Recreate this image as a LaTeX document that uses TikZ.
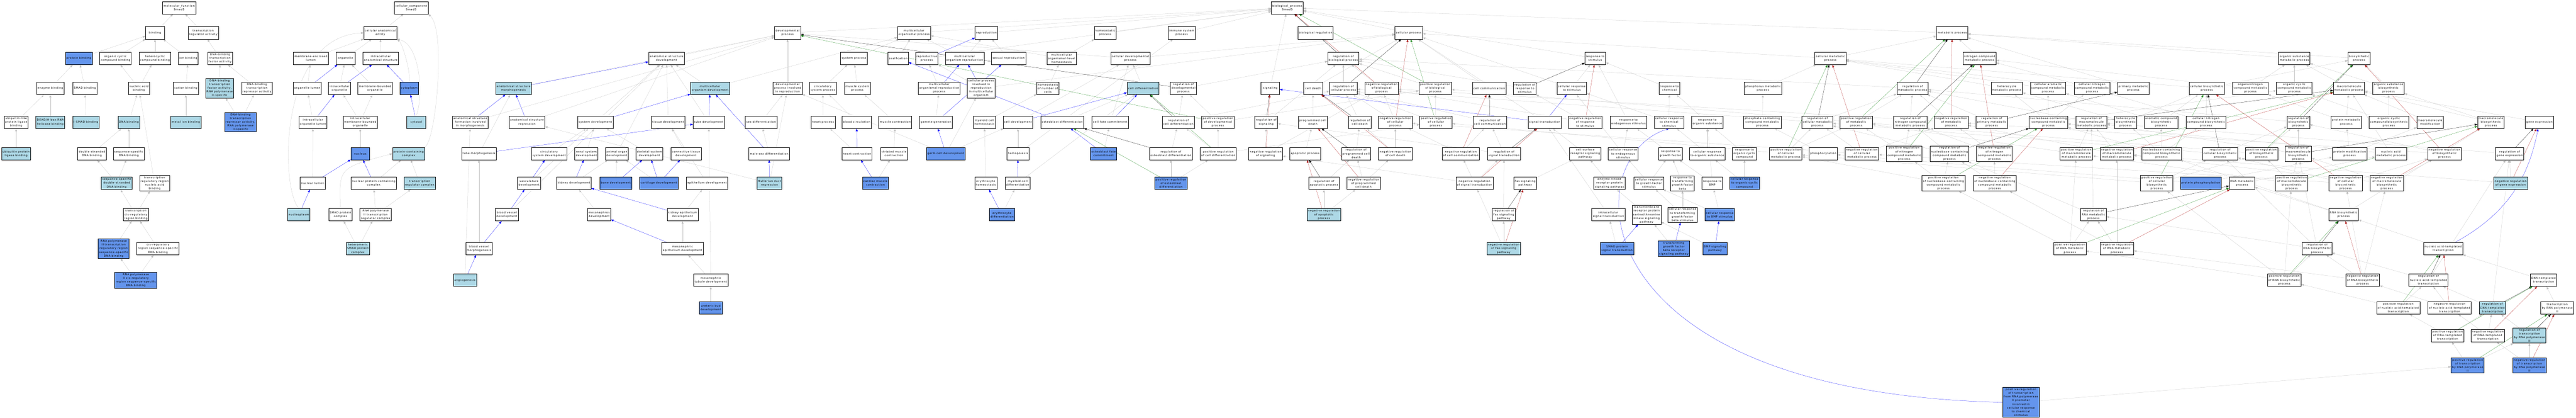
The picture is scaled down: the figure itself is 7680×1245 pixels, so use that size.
\documentclass[tikz,border=0pt]{standalone}
\usepackage{fontspec}
\usepackage{tikz}
\usetikzlibrary{arrows.meta}
\newfontfamily\gofont[LetterSpace=12]{DejaVu Sans}
\definecolor{hitblue}{HTML}{6495ED}
\definecolor{inhblue}{HTML}{ADD8E6}
\definecolor{edgegray}{RGB}{192,192,192}
\definecolor{posgreen}{HTML}{228B22}
\definecolor{negred}{HTML}{B22222}
\pgfdeclarelayer{back}
\pgfsetlayers{back,main}
\tikzset{
  goterm/.style={draw=black, line width=0.9pt, fill=white, align=center,
    inner xsep=3pt, inner ysep=3pt, minimum width=56pt, minimum height=37pt,
    font=\gofont\fontsize{8}{11}\selectfont},
  goannot/.style={goterm, fill=hitblue},
  goinher/.style={goterm, fill=inhblue},
  isa/.style={->, color=edgegray},
  partof/.style={->, color=blue},
  regl/.style={->, color=black},
  posreg/.style={->, color=posgreen},
  negreg/.style={->, color=negred}
}
\begin{document}
\begin{tikzpicture}[x=1pt, y=-1pt, line width=0.9pt,
    >={Triangle[length=8pt, width=6pt]}]
\useasboundingbox (0,0) rectangle (7680,1245);

% molecular function
\node[goterm] (mf) at (534,23) {molecular\_function\\Smad5};
\node[goterm] (bind) at (462,98) {binding};
\node[goterm] (tra) at (606,98) {transcription\\regulator activity};
\node[goannot] (protb) at (235,174) {protein binding};
\node[goterm] (occb) at (344,174) {organic cyclic\\compound binding};
\node[goterm] (hcb) at (462,174) {heterocyclic\\compound binding};
\node[goterm] (ionb) at (561,174) {ion binding};
\node[goterm] (dbtfa) at (656,174) {DNA-binding\\transcription\\factor activity};
\node[goterm] (enzb) at (150,263) {enzyme binding};
\node[goterm] (smadb) at (253,263) {SMAD binding};
\node[goterm] (nab) at (414,263) {nucleic acid\\binding};
\node[goterm] (catb) at (554,263) {cation binding};
\node[goinher] (dbtfa2) at (655,263) {DNA-binding\\transcription\\factor activity,\\RNA polymerase\\II-specific};
\node[goterm] (dbtra) at (766,263) {DNA-binding\\transcription\\repressor activity};
\node[goterm] (ulplb) at (48,364) {ubiquitin-like\\protein ligase\\binding};
\node[goinher] (deadb) at (150,364) {DEAD/H-box RNA\\helicase binding};
\node[goinher] (ismadb) at (256,364) {I-SMAD binding};
\node[goinher] (dnab) at (384,364) {DNA binding};
\node[goinher] (metb) at (554,364) {metal ion binding};
\node[goannot] (dbtra2) at (717,364) {DNA-binding\\transcription\\repressor activity,\\RNA polymerase\\II-specific};
\node[goinher] (uplb) at (48,458) {ubiquitin protein\\ligase binding};
\node[goterm] (dsdna) at (274,458) {double-stranded\\DNA binding};
\node[goterm] (ssdna) at (384,458) {sequence-specific\\DNA binding};
\node[goinher] (ssds) at (348,546) {sequence-specific\\double-stranded\\DNA binding};
\node[goterm] (trrnab) at (461,546) {transcription\\regulatory region\\nucleic acid\\binding};
\node[goterm] (tcrrb) at (405,640) {transcription\\cis-regulatory\\region binding};
\node[goannot] (p2trr) at (339,741) {RNA polymerase\\II transcription\\regulatory region\\sequence-specific\\DNA binding};
\node[goterm] (crrss) at (471,741) {cis-regulatory\\region sequence-specific\\DNA binding};
\node[goannot] (p2crr) at (405,835) {RNA polymerase\\II cis-regulatory\\region sequence-specific\\DNA binding};

% cellular component
\node[goterm] (cc) at (1226,23) {cellular\_component\\Smad5};
\node[goterm] (cae) at (1134,98) {cellular anatomical\\entity};
\node[goterm] (mel) at (927,174) {membrane-enclosed\\lumen};
\node[goterm] (org) at (1030,174) {organelle};
\node[goterm] (ias) at (1135,174) {intracellular\\anatomical structure};
\node[goterm] (orglum) at (916,263) {organelle lumen};
\node[goterm] (iorg) at (1012,263) {intracellular\\organelle};
\node[goterm] (mbo) at (1118,263) {membrane-bounded\\organelle};
\node[goannot] (cyto) at (1220,263) {cytoplasm};
\node[goterm] (iol) at (933,364) {intracellular\\organelle lumen};
\node[goterm] (imbo) at (1074,364) {intracellular\\membrane-bounded\\organelle};
\node[goinher] (cytosol) at (1241,364) {cytosol};
\node[goannot] (nuc) at (1074,458) {nucleus};
\node[goinher] (pcc) at (1218,458) {protein-containing\\complex};
\node[goterm] (nuclum) at (932,546) {nuclear lumen};
\node[goterm] (npcc) at (1114,546) {nuclear protein-containing\\complex};
\node[goinher] (trc) at (1251,546) {transcription\\regulator complex};
\node[goinher] (nucpl) at (891,640) {nucleoplasm};
\node[goterm] (smadpc) at (1015,640) {SMAD protein\\complex};
\node[goterm] (p2trc) at (1120,640) {RNA polymerase\\II transcription\\regulator complex};
\node[goinher] (hsmad) at (1067,741) {heteromeric\\SMAD protein\\complex};

% biological process: development
\node[goinher] (asm) at (1531,263) {anatomical structure\\morphogenesis};
\node[goterm] (asfim) at (1402,364) {anatomical structure\\formation involved\\in morphogenesis};
\node[goterm] (asr) at (1571,364) {anatomical structure\\regression};
\node[goterm] (sysdev) at (1775,364) {system development};
\node[goterm] (tubemorph) at (1428,458) {tube morphogenesis};
\node[goterm] (circdev) at (1637,458) {circulatory\\system development};
\node[goterm] (renaldev) at (1748,458) {renal system\\development};
\node[goterm] (aodev) at (1839,458) {animal organ\\development};
\node[goterm] (skeldev) at (1936,458) {skeletal system\\development};
\node[goterm] (vascdev) at (1577,546) {vasculature\\development};
\node[goterm] (kiddev) at (1711,546) {kidney development};
\node[goannot] (bonedev) at (1836,546) {bone development};
\node[goannot] (cartdev) at (1964,546) {cartilage development};
\node[goterm] (bvdev) at (1511,640) {blood vessel\\development};
\node[goterm] (mesodev) at (1786,640) {mesonephros\\development};
\node[goterm] (bvmorph) at (1428,741) {blood vessel\\morphogenesis};
\node[goinher] (angio) at (1386,835) {angiogenesis};
\node[goterm] (devproc) at (2348,98) {developmental\\process};
\node[goterm] (asd) at (1987,174) {anatomical structure\\development};
\node[goterm] (sysproc) at (2546,174) {system process};
\node[goinher] (mod) at (2117,263) {multicellular\\organism development};
\node[goterm] (dpir) at (2348,263) {developmental\\process involved\\in reproduction};
\node[goterm] (circproc) at (2453,263) {circulatory\\system process};
\node[goterm] (muscproc) at (2556,263) {muscle system\\process};
\node[goterm] (tissdev) at (1992,364) {tissue development};
\node[goterm] (tubedev) at (2113,364) {tube development};
\node[goterm] (sexdiff) at (2269,364) {sex differentiation};
\node[goterm] (heartproc) at (2454,364) {heart process};
\node[goterm] (bloodcirc) at (2554,364) {blood circulation};
\node[goterm] (ctdev) at (2045,458) {connective tissue\\development};
\node[goterm] (msdiff) at (2293,458) {male sex differentiation};
\node[goterm] (heartcon) at (2555,458) {heart contraction};
\node[goterm] (epidev) at (2108,546) {epithelium development};
\node[goinher] (mdr) at (2294,546) {Mullerian duct\\regression};
\node[goterm] (kepidev) at (2035,640) {kidney epithelium\\development};
\node[goterm] (mepidev) at (2035,741) {mesonephric\\epithelium development};
\node[goterm] (mtubdev) at (2119,835) {mesonephric\\tubule development};
\node[goannot] (ubdev) at (2119,918) {ureteric bud\\development};

% reproduction, homeostasis, cells
\node[goterm] (mop) at (2725,98) {multicellular\\organismal process};
\node[goterm] (repro) at (2941,98) {reproduction};
\node[goterm] (ossif) at (2678,174) {ossification};
\node[goterm] (reprop) at (2763,174) {reproductive\\process};
\node[goterm] (mor) at (2876,174) {multicellular\\organism reproduction};
\node[goterm] (sexrep) at (3007,174) {sexual reproduction};
\node[goterm] (molh) at (3165,174) {multicellular\\organismal-level\\homeostasis};
\node[goterm] (morp) at (2800,263) {multicellular\\organismal reproductive\\process};
\node[goterm] (cpir) at (2925,263) {cellular process\\involved in\\reproduction\\in multicellular\\organism};
\node[goterm] (honc) at (3124,263) {homeostasis\\of number of\\cells};
\node[goterm] (muscon) at (2669,364) {muscle contraction};
\node[goterm] (gamgen) at (2790,364) {gamete generation};
\node[goterm] (mchom) at (2935,364) {myeloid cell\\homeostasis};
\node[goterm] (celldev) at (3035,364) {cell development};
\node[goterm] (obdiff) at (3167,364) {osteoblast differentiation};
\node[goterm] (smcon) at (2665,458) {striated muscle\\contraction};
\node[goannot] (gcdev) at (2820,458) {germ cell development};
\node[goterm] (hemo) at (3035,458) {hemopoiesis};
\node[goannot] (cmcon) at (2610,546) {cardiac muscle\\contraction};
\node[goterm] (erhom) at (2939,546) {erythrocyte\\homeostasis};
\node[goterm] (mcdiff) at (3034,546) {myeloid cell\\differentiation};
\node[goannot] (erdiff) at (2987,640) {erythrocyte\\differentiation};

% differentiation and regulation
\node[goterm] (bp) at (3838,23) {biological\_process\\Smad5};
\node[goterm] (homproc) at (3295,98) {homeostatic\\process};
\node[goterm] (immproc) at (3523,98) {immune system\\process};
\node[goterm] (cdp) at (3370,174) {cellular developmental\\process};
\node[goinher] (celldiff) at (3408,263) {cell differentiation};
\node[goterm] (rdp) at (3528,263) {regulation of\\developmental\\process};
\node[goterm] (signaling) at (3787,263) {signaling};
\node[goterm] (cfc) at (3310,364) {cell fate commitment};
\node[goterm] (rcd) at (3513,364) {regulation of\\cell differentiation};
\node[goterm] (prdp) at (3631,364) {positive regulation\\of developmental\\process};
\node[goterm] (rsig) at (3775,364) {regulation of\\signaling};
\node[goannot] (obfc) at (3290,458) {osteoblast fate\\commitment};
\node[goterm] (robd) at (3491,458) {regulation of\\osteoblast differentiation};
\node[goterm] (prcd) at (3632,458) {positive regulation\\of cell differentiation};
\node[goterm] (nrsig) at (3773,458) {negative regulation\\of signaling};
\node[goannot] (probd) at (3491,546) {positive regulation\\of osteoblast\\differentiation};

\node[goterm] (bioreg) at (3922,98) {biological regulation};
\node[goterm] (cellproc) at (4200,98) {cellular process};
\node[goterm] (rbp) at (4005,174) {regulation of\\biological process};
\node[goterm] (celldeath) at (3915,263) {cell death};
\node[goterm] (rcp) at (4005,263) {regulation of\\cellular process};
\node[goterm] (nrbp) at (4119,263) {negative regulation\\of biological\\process};
\node[goterm] (prbp) at (4279,263) {positive regulation\\of biological\\process};
\node[goterm] (cellcomm) at (4440,263) {cell communication};
\node[goterm] (pcd) at (3914,364) {programmed cell\\death};
\node[goterm] (rcdeath) at (4054,364) {regulation of\\cell death};
\node[goterm] (nrcp) at (4160,364) {negative regulation\\of cellular\\process};
\node[goterm] (prcp) at (4281,364) {positive regulation\\of cellular\\process};
\node[goterm] (rcc) at (4442,364) {regulation of\\cell communication};
\node[goterm] (apop) at (3891,458) {apoptotic process};
\node[goterm] (rpcd) at (4043,458) {regulation of\\programmed cell\\death};
\node[goterm] (nrcdeath) at (4160,458) {negative regulation\\of cell death};
\node[goterm] (nrcc) at (4355,458) {negative regulation\\of cell communication};
\node[goterm] (rst) at (4484,458) {regulation of\\signal transduction};
\node[goterm] (rap) at (3947,546) {regulation of\\apoptotic process};
\node[goterm] (nrpcd) at (4065,546) {negative regulation\\of programmed\\cell death};
\node[goterm] (nrst) at (4396,546) {negative regulation\\of signal transduction};
\node[goterm] (rfas) at (4483,640) {regulation of\\Fas signaling\\pathway};
\node[goinher] (nrap) at (3947,640) {negative regulation\\of apoptotic\\process};
\node[goinher] (nrfas) at (4483,741) {negative regulation\\of Fas signaling\\pathway};

% response and signalling
\node[goterm] (rstim) at (4756,174) {response to\\stimulus};
\node[goterm] (rrs) at (4546,263) {regulation of\\response to\\stimulus};
\node[goterm] (crs) at (4686,263) {cellular response\\to stimulus};
\node[goterm] (rchem) at (4977,263) {response to\\chemical};
\node[goterm] (sigtr) at (4605,364) {signal transduction};
\node[goterm] (nrrs) at (4726,364) {negative regulation\\of response\\to stimulus};
\node[goterm] (rendo) at (4855,364) {response to\\endogenous stimulus};
\node[goterm] (crchem) at (4976,364) {cellular response\\to chemical\\stimulus};
\node[goterm] (rorg) at (5090,364) {response to\\organic substance};
\node[goterm] (csrsp) at (4726,458) {cell surface\\receptor signaling\\pathway};
\node[goterm] (crendo) at (4839,458) {cellular response\\to endogenous\\stimulus};
\node[goterm] (rgf) at (4980,458) {response to\\growth factor};
\node[goterm] (crorg) at (5090,458) {cellular response\\to organic substance};
\node[goterm] (fas) at (4547,546) {Fas signaling\\pathway};
\node[goterm] (elrp) at (4798,546) {enzyme-linked\\receptor protein\\signaling pathway};
\node[goterm] (crgf) at (4916,546) {cellular response\\to growth factor\\stimulus};
\node[goterm] (rtgfb) at (5016,546) {response to\\transforming\\growth factor\\beta};
\node[goterm] (rbmp) at (5105,546) {response to\\BMP};
\node[goterm] (ist) at (4795,640) {intracellular\\signal transduction};
\node[goterm] (tmrp) at (4909,640) {transmembrane\\receptor protein\\serine/threonine\\kinase signaling\\pathway};
\node[goterm] (crtgfb) at (5016,640) {cellular response\\to transforming\\growth factor\\beta stimulus};
\node[goannot] (crbmp) at (5127,640) {cellular response\\to BMP stimulus};
\node[goannot] (smadst) at (4821,741) {SMAD protein\\signal transduction};
\node[goannot] (tgfbsp) at (4990,741) {transforming\\growth factor\\beta receptor\\signaling pathway};
\node[goannot] (bmpsp) at (5113,741) {BMP signaling\\pathway};

% metabolism
\node[goterm] (cmp) at (5457,174) {cellular metabolic\\process};
\node[goterm] (phmp) at (5256,263) {phosphorus metabolic\\process};
\node[goterm] (rmp) at (5702,263) {regulation of\\metabolic process};
\node[goterm] (pcmp) at (5254,364) {phosphate-containing\\compound metabolic\\process};
\node[goterm] (rcmp) at (5418,364) {regulation of\\cellular metabolic\\process};
\node[goterm] (prmp) at (5534,364) {positive regulation\\of metabolic\\process};
\node[goterm] (rncmp) at (5695,364) {regulation of\\nitrogen compound\\metabolic process};
\node[goterm] (rocc) at (5201,458) {response to\\organic cyclic\\compound};
\node[goterm] (prcmp) at (5324,458) {positive regulation\\of cellular\\metabolic process};
\node[goterm] (phos) at (5436,458) {phosphorylation};
\node[goterm] (nrcmp) at (5551,458) {negative regulation\\of cellular\\metabolic process};
\node[goterm] (prncmp) at (5677,458) {positive regulation\\of nitrogen\\compound metabolic\\process};
\node[goterm] (rnccmp) at (5812,458) {regulation of\\nucleobase-containing\\compound metabolic\\process};
\node[goterm] (prnccmp) at (5794,546) {positive regulation\\of nucleobase-containing\\compound metabolic\\process};
\node[goannot] (crocc) at (5201,546) {cellular response\\to organic cyclic\\compound};

\node[goterm] (mp) at (5820,98) {metabolic process};
\node[goterm] (ncmp) at (5902,174) {nitrogen compound\\metabolic process};
\node[goterm] (hetmp) at (5983,263) {heterocycle\\metabolic process};
\node[goterm] (camp) at (6106,263) {cellular aromatic\\compound metabolic\\process};
\node[goterm] (cncmp) at (6237,263) {cellular nitrogen\\compound metabolic\\process};
\node[goterm] (pmp) at (6360,263) {primary metabolic\\process};
\node[goterm] (nrmp) at (5817,364) {negative regulation\\of metabolic\\process};
\node[goterm] (rpmp) at (5938,364) {regulation of\\primary metabolic\\process};
\node[goterm] (nccmp) at (6107,364) {nucleobase-containing\\compound metabolic\\process};
\node[goterm] (rmmp) at (6235,364) {regulation of\\macromolecule\\metabolic process};
\node[goterm] (hetbp) at (6337,364) {heterocycle\\biosynthetic\\process};
\node[goterm] (acbp) at (6443,364) {aromatic compound\\biosynthetic\\process};
\node[goterm] (nrncmp) at (5946,458) {negative regulation\\of nitrogen\\compound metabolic\\process};
\node[goterm] (prmmp) at (6190,458) {positive regulation\\of macromolecule\\metabolic process};
\node[goterm] (nrmmp) at (6311,458) {negative regulation\\of macromolecule\\metabolic process};
\node[goterm] (nccbp) at (6444,458) {nucleobase-containing\\compound biosynthetic\\process};
\node[goterm] (nrnccmp) at (5947,546) {negative regulation\\of nucleobase-containing\\compound metabolic\\process};
\node[goterm] (prcbp) at (6430,546) {positive regulation\\of cellular\\biosynthetic\\process};
\node[goterm] (rrnamp) at (6241,640) {regulation of\\RNA metabolic\\process};
\node[goterm] (prrnamp) at (6171,741) {positive regulation\\of RNA metabolic\\process};
\node[goterm] (nrrnamp) at (6311,741) {negative regulation\\of RNA metabolic\\process};
\node[goannot] (prtc) at (6025,1199) {positive regulation\\of transcription\\from RNA polymerase\\II promoter\\involved in\\cellular response\\to chemical\\stimulus};

\node[goterm] (osmp) at (6840,174) {organic substance\\metabolic process};
\node[goterm] (bsp) at (7033,174) {biosynthetic\\process};
\node[goterm] (cbp) at (6579,263) {cellular biosynthetic\\process};
\node[goterm] (oncmp) at (6709,263) {organonitrogen\\compound metabolic\\process};
\node[goterm] (occmp) at (6840,263) {organic cyclic\\compound metabolic\\process};
\node[goterm] (mmp) at (7003,263) {macromolecule\\metabolic process};
\node[goterm] (cncbp) at (6577,364) {cellular nitrogen\\compound biosynthetic\\process};
\node[goterm] (rbsp) at (6852,364) {regulation of\\biosynthetic\\process};
\node[goterm] (protmp) at (6995,364) {protein metabolic\\process};
\node[goterm] (rcbp) at (6619,458) {regulation of\\cellular biosynthetic\\process};
\node[goterm] (prbsp) at (6742,458) {positive regulation\\of biosynthetic\\process};
\node[goterm] (rmbp) at (6852,458) {regulation of\\macromolecule\\biosynthetic\\process};
\node[goterm] (pmodp) at (7005,458) {protein modification\\process};
\node[goannot] (pphos) at (6561,546) {protein phosphorylation};
\node[goterm] (rnamp) at (6684,546) {RNA metabolic\\process};
\node[goterm] (prmbp) at (6832,546) {positive regulation\\of macromolecule\\biosynthetic\\process};
\node[goterm] (nrcbp) at (6993,546) {negative regulation\\of cellular\\biosynthetic\\process};
\node[goterm] (rnabp) at (6987,640) {RNA biosynthetic\\process};
\node[goterm] (rrnabp) at (6908,741) {regulation of\\RNA biosynthetic\\process};
\node[goterm] (prrnabp) at (6810,835) {positive regulation\\of RNA biosynthetic\\process};
\node[goterm] (nrrnabp) at (7044,835) {negative regulation\\of RNA biosynthetic\\process};

% transcription
\node[goterm] (osbp) at (7121,263) {organic substance\\biosynthetic\\process};
\node[goterm] (occbp) at (7122,364) {organic cyclic\\compound biosynthetic\\process};
\node[goterm] (mmod) at (7245,364) {macromolecule\\modification};
\node[goterm] (mbp) at (7426,364) {macromolecule\\biosynthetic\\process};
\node[goterm] (genex) at (7571,364) {gene expression};
\node[goterm] (namp) at (7128,458) {nucleic acid\\metabolic process};
\node[goterm] (nrbsp) at (7288,458) {negative regulation\\of biosynthetic\\process};
\node[goterm] (rge) at (7482,458) {regulation of\\gene expression};
\node[goterm] (nrmbp) at (7116,546) {negative regulation\\of macromolecule\\biosynthetic\\process};
\node[goinher] (nrge) at (7485,546) {negative regulation\\of gene expression};
\node[goterm] (natt) at (7284,741) {nucleic acid-templated\\transcription};
\node[goterm] (rnatt) at (7240,835) {regulation of\\nucleic acid-templated\\transcription};
\node[goterm] (dtt) at (7583,835) {DNA-templated\\transcription};
\node[goterm] (prnatt) at (7150,918) {positive regulation\\of nucleic acid-templated\\transcription};
\node[goterm] (nrnatt) at (7303,918) {negative regulation\\of nucleic acid-templated\\transcription};
\node[goinher] (rdtt) at (7431,918) {regulation of\\DNA-templated\\transcription};
\node[goterm] (trp2) at (7624,918) {transcription\\by RNA polymerase\\II};
\node[goterm] (prdtt) at (7297,1000) {positive regulation\\of DNA-templated\\transcription};
\node[goterm] (nrdtt) at (7417,1000) {negative regulation\\of DNA-templated\\transcription};
\node[goinher] (rtrp2) at (7541,1000) {regulation of\\transcription\\by RNA polymerase\\II};
\node[goannot] (prtrp2) at (7357,1089) {positive regulation\\of transcription\\by RNA polymerase\\II};
\node[goannot] (nrtrp2) at (7541,1089) {negative regulation\\of transcription\\by RNA polymerase\\II};

\begin{pgfonlayer}{back}
% molecular function edges
\path[isa] (bind) edge (mf) (tra) edge (mf) (protb) edge (bind) (occb) edge (bind)
  (hcb) edge (bind) (ionb) edge (bind) (dbtfa) edge (tra) (enzb) edge (protb)
  (smadb) edge (protb) (nab) edge (occb) (nab) edge (hcb) (catb) edge (ionb)
  (dbtfa2) edge (dbtfa) (dbtra) edge (dbtfa) (ulplb) edge (enzb) (deadb) edge (enzb)
  (ismadb) edge (smadb) (dnab) edge (nab) (metb) edge (catb) (dbtra2) edge (dbtfa2)
  (dbtra2) edge (dbtra) (uplb) edge (ulplb) (dsdna) edge (dnab) (ssdna) edge (dnab)
  (ssds) edge (dsdna) (ssds) edge (ssdna) (trrnab) edge (nab) (tcrrb) edge (ssds)
  (tcrrb) edge (trrnab) (p2trr) edge (tcrrb) (crrss) edge (tcrrb) (p2crr) edge (p2trr)
  (p2crr) edge (crrss);

% cellular component edges
\path[isa] (cae) edge (cc) (mel) edge (cae) (org) edge (cae) (ias) edge (cae)
  (iorg) edge (org) (mbo) edge (org) (orglum) edge (mel) (iol) edge (orglum)
  (imbo) edge (iorg) (imbo) edge (mbo) (nuc) edge (imbo) (nuclum) edge (iol)
  (npcc) edge (pcc) (trc) edge (pcc) (p2trc) edge (npcc) (p2trc) edge (trc)
  (hsmad) edge (smadpc) (hsmad) edge (p2trc);
\draw[isa] (cyto.north) .. controls (1225,215) and (1200,130) .. (cae.south east);
\draw[isa] (cytosol.north) .. controls (1265,280) and (1250,130) .. (cae.south east);
\draw[isa] (pcc.north east) .. controls (1300,420) and (1330,90) .. (cc.south east);
\draw[isa] (smadpc.north) .. controls (1010,500) .. (pcc.west);
\draw[isa] (nucpl.north) .. controls (835,560) and (830,110) .. (cae.west);
\path[partof] (orglum) edge (org) (iorg) edge (ias) (cyto) edge (ias) (iol) edge (iorg)
  (cytosol) edge (cyto) (nuclum) edge (nuc) (npcc) edge (nuc) (nucpl) edge (nuclum);

% development edges
\path[isa] (devproc) edge (bp) (asd) edge (devproc) (asm) edge (devproc)
  (asfim) edge (devproc) (asr) edge (devproc) (sysdev) edge (asd) (aodev) edge (asd)
  (tissdev) edge (asd) (tubedev) edge (asd) (mod) edge (asd) (bvdev) edge (asd)
  (tubemorph) edge (asm) (circdev) edge (sysdev) (renaldev) edge (sysdev)
  (skeldev) edge (sysdev) (vascdev) edge (sysdev) (kiddev) edge (aodev)
  (bonedev) edge (aodev) (cartdev) edge (aodev) (mesodev) edge (kiddev)
  (bvmorph) edge (tubemorph) (angio) edge (asfim) (ctdev) edge (tissdev)
  (epidev) edge (tissdev) (kepidev) edge (epidev) (mepidev) edge (kepidev)
  (mtubdev) edge (mepidev) (mtubdev) edge (tubedev) (ubdev) edge (mtubdev)
  (sexdiff) edge (dpir) (msdiff) edge (sexdiff) (mdr) edge (asr) (mdr) edge (dpir)
  (dpir) edge (devproc) (circproc) edge (sysproc) (muscproc) edge (sysproc)
  (sysproc) edge (mop) (heartproc) edge (circproc) (bloodcirc) edge (circproc)
  (heartcon) edge (heartproc) (muscon) edge (muscproc) (smcon) edge (muscon)
  (cmcon) edge (smcon) (mod) edge (mop);
\path[partof] (asm) edge (asd) (asfim) edge (asm) (asr) edge (asm) (sysdev) edge (mod)
  (tubemorph) edge (tubedev) (vascdev) edge (circdev) (kiddev) edge (renaldev)
  (bonedev) edge (skeldev) (cartdev) edge (skeldev) (cartdev) edge (ctdev)
  (bvdev) edge (vascdev) (bvmorph) edge (bvdev) (angio) edge (bvmorph)
  (kepidev) edge (kiddev) (mepidev) edge (mesodev) (tubedev) edge (mod)
  (msdiff) edge (mod) (mdr) edge (msdiff) (heartcon) edge (bloodcirc)
  (cmcon) edge (heartcon);

% reproduction and cell edges
\path[isa] (mop) edge (bp) (repro) edge (bp) (homproc) edge (bp) (immproc) edge (bp)
  (mor) edge (repro) (mor) edge (mop) (sexrep) edge (repro) (reprop) edge (bp)
  (morp) edge (reprop) (cpir) edge (reprop) (cpir) edge (cellproc) (gamgen) edge (morp)
  (gcdev) edge (cpir) (gcdev) edge (celldev) (gcdev) edge (dpir) (ossif) edge (mop)
  (mchom) edge (honc) (honc) edge (molh) (molh) edge (homproc) (molh) edge (mop)
  (celldev) edge (cdp) (hemo) edge (celldev) (hemo) edge (immproc)
  (erhom) edge (mchom) (erdiff) edge (mcdiff) (mcdiff) edge (celldiff)
  (obdiff) edge (celldiff) (cdp) edge (devproc) (cdp) edge (cellproc)
  (celldiff) edge (cdp) (cfc) edge (cdp) (obfc) edge (cfc);
\path[partof] (reprop) edge (repro) (morp) edge (mor) (cpir) edge (mor)
  (gamgen) edge (sexrep) (gcdev) edge (gamgen) (obdiff) edge (ossif)
  (celldev) edge (celldiff) (mcdiff) edge (hemo) (erdiff) edge (erhom)
  (cfc) edge (celldiff) (obfc) edge (obdiff);

% regulation edges
\path[isa] (rdp) edge (rbp) (rcd) edge (rdp) (rcd) edge (rcp) (prdp) edge (rdp)
  (prdp) edge (prbp) (robd) edge (rcd) (prcd) edge (rcd) (prcd) edge (prdp)
  (prcd) edge (prcp) (probd) edge (robd) (probd) edge (prcd) (rsig) edge (rbp)
  (nrsig) edge (rsig) (nrsig) edge (nrbp) (signaling) edge (bp)
  (bioreg) edge (bp) (cellproc) edge (bp) (rbp) edge (bioreg) (celldeath) edge (cellproc)
  (rcp) edge (rbp) (nrbp) edge (rbp) (prbp) edge (rbp) (cellcomm) edge (cellproc)
  (pcd) edge (celldeath) (rcdeath) edge (rcp) (nrcp) edge (rcp) (nrcp) edge (nrbp)
  (prcp) edge (rcp) (prcp) edge (prbp) (rcc) edge (rcp) (apop) edge (pcd)
  (rpcd) edge (rcdeath) (nrcdeath) edge (rcdeath) (nrcdeath) edge (nrcp)
  (nrcc) edge (rcc) (nrcc) edge (nrcp) (rst) edge (rcc) (rst) edge (rsig)
  (rap) edge (rpcd) (nrpcd) edge (rpcd) (nrpcd) edge (nrcdeath) (nrst) edge (nrcc)
  (nrst) edge (rst) (nrst) edge (nrsig) (rfas) edge (rst) (nrap) edge (rap)
  (nrap) edge (nrpcd) (nrfas) edge (rfas) (nrfas) edge (nrst);
\path[regl] (rbp) edge (bp) (rcp) edge (cellproc) (rcd) edge (celldiff)
  (robd) edge (obdiff) (rsig) edge (signaling) (rcdeath) edge (celldeath)
  (rpcd) edge (pcd) (rap) edge (apop) (rcc) edge (cellcomm) (rst) edge (sigtr)
  (rfas) edge (fas) (rrs) edge (rstim) (rdp) edge (devproc);
\path[posreg] (prbp) edge (bp) (prcp) edge (cellproc) (prdp) edge (devproc)
  (prcd) edge (celldiff) (probd) edge (obdiff);
\path[negreg] (nrbp) edge (bp) (nrcp) edge (cellproc) (nrsig) edge (signaling)
  (nrcdeath) edge (celldeath) (nrpcd) edge (pcd) (nrap) edge (apop)
  (nrcc) edge (cellcomm) (nrst) edge (sigtr) (nrfas) edge (fas) (nrrs) edge (rstim);

% response edges
\path[isa] (rstim) edge (bp) (rrs) edge (rbp) (crs) edge (rstim) (crs) edge (cellproc)
  (rchem) edge (rstim) (sigtr) edge (cellproc) (nrrs) edge (rrs) (nrrs) edge (nrbp)
  (rendo) edge (rstim) (crchem) edge (rchem) (crchem) edge (crs) (rorg) edge (rchem)
  (csrsp) edge (sigtr) (crendo) edge (rendo) (crendo) edge (crs) (rgf) edge (rendo)
  (crorg) edge (rorg) (crorg) edge (crchem) (fas) edge (csrsp) (elrp) edge (csrsp)
  (crgf) edge (rgf) (crgf) edge (crendo) (rtgfb) edge (rgf) (rbmp) edge (rgf)
  (rbmp) edge (rorg) (ist) edge (sigtr) (tmrp) edge (elrp) (crtgfb) edge (rtgfb)
  (crtgfb) edge (crgf) (crbmp) edge (rbmp) (crbmp) edge (crgf) (smadst) edge (ist)
  (tgfbsp) edge (tmrp) (bmpsp) edge (tmrp) (rocc) edge (rorg) (crocc) edge (rocc)
  (crocc) edge (crorg);
\path[partof] (sigtr) edge (signaling) (sigtr) edge (crs) (smadst) edge (tmrp)
  (tgfbsp) edge (crtgfb) (bmpsp) edge (crbmp);
\draw[partof] (prtc.west) .. controls (4700,1170) and (4700,470) .. (crchem.south);

% metabolism edges
\path[isa] (mp) edge (bp) (cmp) edge (mp) (cmp) edge (cellproc) (phmp) edge (cmp)
  (rmp) edge (rbp) (pcmp) edge (phmp) (rcmp) edge (rmp) (rcmp) edge (rcp)
  (prmp) edge (rmp) (prmp) edge (prbp) (rncmp) edge (rmp) (prcmp) edge (rcmp)
  (prcmp) edge (prmp) (prcmp) edge (prcp) (phos) edge (pcmp) (nrcmp) edge (rcmp)
  (nrcmp) edge (nrmp) (nrcmp) edge (nrcp) (prncmp) edge (rncmp) (prncmp) edge (prmp)
  (rnccmp) edge (rncmp) (rnccmp) edge (rcmp) (prnccmp) edge (rnccmp)
  (prnccmp) edge (prncmp) (prnccmp) edge (prcmp)
  (ncmp) edge (mp) (hetmp) edge (cmp) (camp) edge (cmp) (cncmp) edge (ncmp)
  (cncmp) edge (cmp) (pmp) edge (mp) (nrmp) edge (rmp) (nrmp) edge (nrbp)
  (rpmp) edge (rmp) (nccmp) edge (hetmp) (nccmp) edge (camp) (nccmp) edge (cncmp)
  (nccmp) edge (occmp) (rmmp) edge (rmp) (hetbp) edge (hetmp) (hetbp) edge (cbp)
  (acbp) edge (camp) (acbp) edge (cbp) (nrncmp) edge (rncmp) (nrncmp) edge (nrmp)
  (prmmp) edge (rmmp) (prmmp) edge (prmp) (nrmmp) edge (rmmp) (nrmmp) edge (nrmp)
  (nccbp) edge (nccmp) (nccbp) edge (hetbp) (nccbp) edge (acbp) (nccbp) edge (cncbp)
  (nrnccmp) edge (rnccmp) (nrnccmp) edge (nrncmp) (prcbp) edge (rcbp)
  (prcbp) edge (prbsp) (prcbp) edge (prcmp) (rrnamp) edge (rnccmp) (rrnamp) edge (rmmp)
  (prrnamp) edge (rrnamp) (prrnamp) edge (prmmp) (prrnamp) edge (prnccmp)
  (nrrnamp) edge (rrnamp) (nrrnamp) edge (nrmmp) (nrrnamp) edge (nrnccmp)
  (prtc) edge (prtrp2)
  (osmp) edge (mp) (bsp) edge (mp) (cbp) edge (bsp) (cbp) edge (cmp)
  (oncmp) edge (osmp) (oncmp) edge (ncmp) (occmp) edge (osmp) (mmp) edge (osmp)
  (cncbp) edge (cbp) (cncbp) edge (cncmp) (rbsp) edge (rmp) (protmp) edge (mmp)
  (protmp) edge (oncmp) (rcbp) edge (rbsp) (rcbp) edge (rcmp) (prbsp) edge (rbsp)
  (prbsp) edge (prmp) (rmbp) edge (rbsp) (rmbp) edge (rmmp) (pmodp) edge (protmp)
  (pmodp) edge (mmod) (pphos) edge (phos) (pphos) edge (pmodp) (rnamp) edge (namp)
  (prmbp) edge (rmbp) (prmbp) edge (prbsp) (prmbp) edge (prmmp) (nrcbp) edge (rcbp)
  (nrcbp) edge (nrbsp) (nrcbp) edge (nrcmp) (rnabp) edge (rnamp) (rnabp) edge (nccbp)
  (rnabp) edge (mbp) (rrnabp) edge (rrnamp) (rrnabp) edge (rcbp) (rrnabp) edge (rmbp)
  (prrnabp) edge (rrnabp) (prrnabp) edge (prrnamp) (prrnabp) edge (prmbp)
  (prrnabp) edge (prcbp) (nrrnabp) edge (rrnabp) (nrrnabp) edge (nrcbp)
  (nrrnabp) edge (nrrnamp) (nrrnabp) edge (nrmbp)
  (osbp) edge (bsp) (osbp) edge (osmp) (occbp) edge (osbp) (occbp) edge (occmp)
  (mmod) edge (mmp) (mbp) edge (mmp) (mbp) edge (osbp) (genex) edge (mmp)
  (namp) edge (nccmp) (namp) edge (mmp) (nrbsp) edge (rbsp) (nrbsp) edge (nrmp)
  (rge) edge (rmmp) (nrmbp) edge (rmbp) (nrmbp) edge (nrbsp) (nrmbp) edge (nrmmp)
  (nrge) edge (rge) (nrge) edge (nrmmp) (natt) edge (rnabp) (rnatt) edge (rrnabp)
  (rnatt) edge (rge) (dtt) edge (natt) (prnatt) edge (rnatt) (prnatt) edge (prrnabp)
  (nrnatt) edge (rnatt) (nrnatt) edge (nrrnabp) (rdtt) edge (rnatt) (rdtt) edge (rge)
  (trp2) edge (dtt) (prdtt) edge (rdtt) (prdtt) edge (prnatt) (nrdtt) edge (rdtt)
  (nrdtt) edge (nrnatt) (rtrp2) edge (rdtt) (prtrp2) edge (prdtt) (prtrp2) edge (rtrp2)
  (nrtrp2) edge (nrdtt) (nrtrp2) edge (rtrp2);
\path[partof] (natt) edge[bend right=25] (genex);
\path[regl] (rmp) edge (mp) (rcmp) edge (cmp) (rncmp) edge (ncmp) (rnccmp) edge (nccmp)
  (rpmp) edge (pmp) (rmmp) edge (mmp) (rrnamp) edge (rnamp) (rbsp) edge (bsp)
  (rcbp) edge (cbp) (rmbp) edge (mbp) (rrnabp) edge (rnabp) (rge) edge (genex)
  (rnatt) edge (natt) (rdtt) edge (dtt) (rtrp2) edge (trp2);
\path[posreg] (prmp) edge (mp) (prcmp) edge (cmp) (prncmp) edge (ncmp)
  (prnccmp) edge (nccmp) (prmmp) edge (mmp) (prrnamp) edge (rnamp) (prcbp) edge (cbp)
  (prbsp) edge (bsp) (prmbp) edge (mbp) (prrnabp) edge (rnabp) (prnatt) edge (natt)
  (prdtt) edge (dtt) (prtrp2) edge (trp2);
\path[negreg] (nrmp) edge (mp) (nrcmp) edge (cmp) (nrncmp) edge (ncmp)
  (nrnccmp) edge (nccmp) (nrmmp) edge (mmp) (nrrnamp) edge (rnamp) (nrcbp) edge (cbp)
  (nrbsp) edge (bsp) (nrmbp) edge (mbp) (nrrnabp) edge (rnabp) (nrge) edge (genex)
  (nrnatt) edge (natt) (nrdtt) edge (dtt) (nrtrp2) edge (trp2);
\end{pgfonlayer}
\end{tikzpicture}
\end{document}
